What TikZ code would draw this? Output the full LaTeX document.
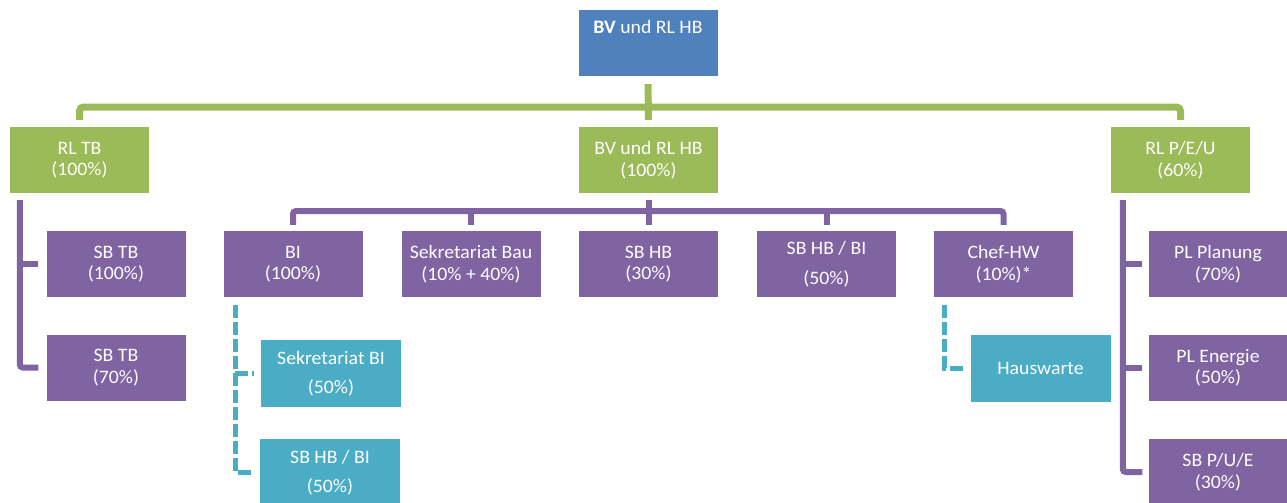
\documentclass[tikz,border=0pt]{standalone}
\usepackage{fontspec}
\setmainfont{Carlito}[FakeStretch=1.04]
\definecolor{blueC}{HTML}{4F81BD}
\definecolor{greenC}{HTML}{9BBB59}
\definecolor{purpleC}{HTML}{8064A2}
\definecolor{tealC}{HTML}{4BACC6}
\begin{document}
\begin{tikzpicture}[x=1pt,y=-1pt,
  box/.style={minimum width=139pt, minimum height=66pt, inner sep=0pt, text=white,
    align=center, font=\fontsize{19}{21.5}\selectfont},
  bbox/.style={box, fill=blueC},
  gbox/.style={box, fill=greenC},
  pbox/.style={box, fill=purpleC},
  tbox/.style={box, fill=tealC, minimum height=67pt, minimum width=140pt},
  gline/.style={draw=greenC, line width=7pt, rounded corners=4pt},
  pline/.style={draw=purpleC, line width=6pt, rounded corners=3pt},
  tline/.style={draw=tealC, line width=5pt, dash pattern=on 13pt off 4pt}]
\useasboundingbox (0,0) rectangle (1287,503);
% top
\node[bbox] (top) at (648,43) {\textbf{BV} und RL HB\\[10pt]~};
% green row
\node[gbox] (rltb) at (79.5,160) {RL TB\\(100\%)};
\node[gbox] (mid) at (648.5,160) {BV und RL HB\\(100\%)};
\node[gbox] (rlpeu) at (1180.5,160) {RL P/E/U\\(60\%)};
% left column
\node[pbox] (sbtb1) at (116,264) {SB TB\\(100\%)};
\node[pbox] (sbtb2) at (116,367.5) {SB TB\\(70\%)};
% middle row
\node[pbox] (bi) at (293,264) {BI\\(100\%)};
\node[pbox] (sekbau) at (471,264) {Sekretariat Bau\\(10\% + 40\%)};
\node[pbox] (sbhb) at (648.5,264) {SB HB\\(30\%)};
\node[pbox] (sbhbbi) at (826.5,264) {SB HB / BI\\[9pt](50\%)};
\node[pbox] (chef) at (1003.5,264) {Chef-HW\\(10\%)*};
% teal
\node[tbox] (sekbi) at (331,373.5) {Sekretariat BI\\[8pt](50\%)};
\node[tbox] (sbhbbi2) at (330,472.5) {SB HB / BI\\[8pt](50\%)};
\node[tbox] (hw) at (1040.5,368) {Hauswarte};
% right column
\node[pbox] (plpl) at (1218,264) {PL Planung\\(70\%)};
\node[pbox] (plen) at (1218,368) {PL Energie\\(50\%)};
\node[pbox] (sbpue) at (1218,472) {SB P/U/E\\(30\%)};
% green connectors
\coordinate (gbar) at (648.5,107);
\draw[gline] ([yshift=-8pt]top.south) -- ([yshift=7pt]mid.north);
\draw[gline] ([yshift=7pt]rltb.north) |- (gbar) -| ([yshift=7pt]rlpeu.north);
% purple left
\coordinate (lv) at ([xshift=10pt,yshift=-7pt]rltb.south west);
\draw[pline] (lv) |- ([xshift=-8pt]sbtb2.west);
\draw[pline] (lv |- sbtb1.west) -- ([xshift=-8pt]sbtb1.west);
% purple middle
\coordinate (pbar) at (648.5,211);
\draw[pline] ([yshift=-7pt]mid.south) -- ([yshift=6pt]sbhb.north);
\draw[pline] ([yshift=6pt]bi.north) |- (pbar) -| ([yshift=6pt]chef.north);
\draw[pline] (sekbau.north |- pbar) -- ([yshift=6pt]sekbau.north);
\draw[pline] (sbhbbi.north |- pbar) -- ([yshift=6pt]sbhbbi.north);
% purple right
\coordinate (rv) at ([xshift=12pt,yshift=-7pt]rlpeu.south west);
\draw[pline] (rv) |- ([xshift=-6pt]sbpue.west);
\draw[pline] (rv |- plpl.west) -- ([xshift=-6pt]plpl.west);
\draw[pline] (rv |- plen.west) -- ([xshift=-6pt]plen.west);
% teal dashed
\coordinate (tv) at ([xshift=12pt,yshift=-8pt]bi.south west);
\draw[tline] (tv) |- ([xshift=-7pt]sbhbbi2.west);
\draw[tline] (tv |- sekbi.west) -- ([xshift=-7pt]sekbi.west);
\coordinate (hv) at ([xshift=11pt,yshift=-8pt]chef.south west);
\draw[tline] (hv) |- ([xshift=-7pt]hw.west);
\end{tikzpicture}
\end{document}
